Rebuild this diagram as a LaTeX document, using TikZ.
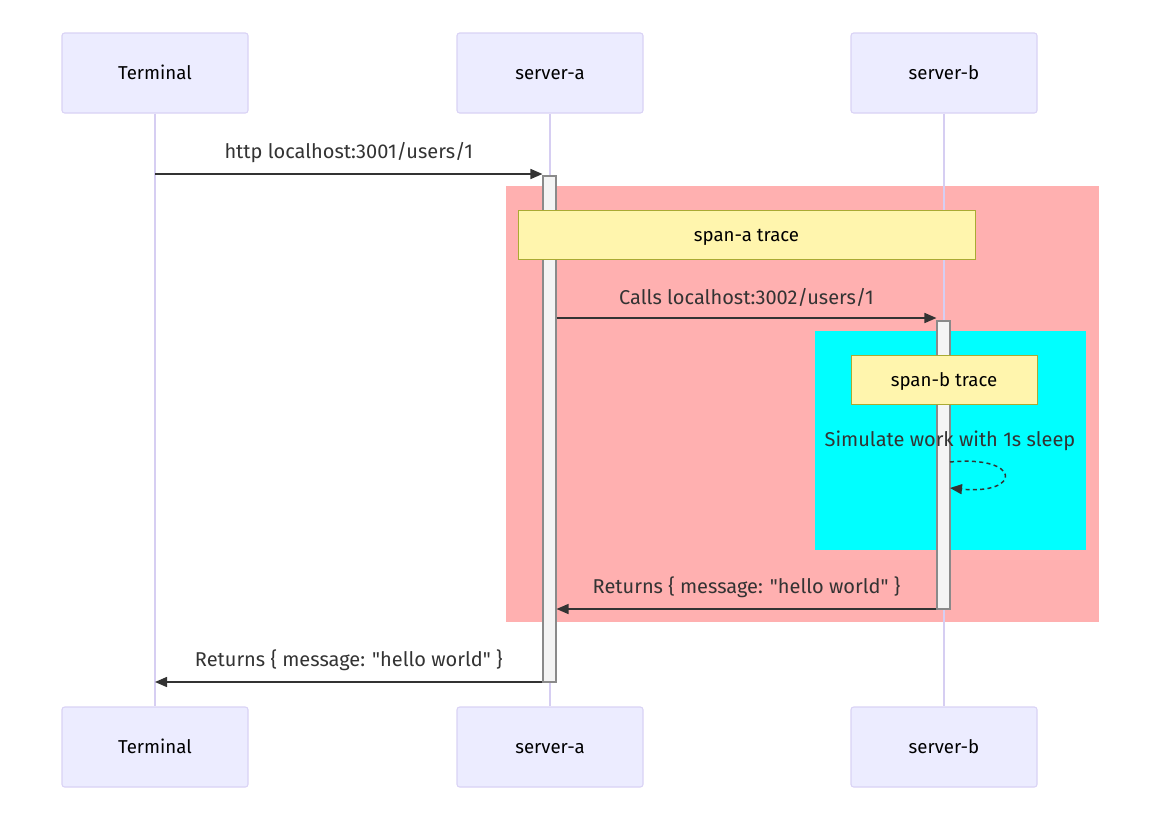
\documentclass[tikz,border=0pt]{standalone}
\usepackage{fontspec}
\setmainfont{Fira Sans}
\usetikzlibrary{arrows.meta}
\definecolor{actfill}{HTML}{ECECFF}
\definecolor{actline}{HTML}{D9D2F5}
\definecolor{lifeline}{HTML}{D6CEF2}
\definecolor{notefill}{HTML}{FFF5AD}
\definecolor{noteline}{HTML}{AAAA33}
\definecolor{actvfill}{HTML}{F4F4F4}
\definecolor{actvline}{HTML}{8A8A8A}
\definecolor{msgcol}{HTML}{333333}
\definecolor{spanapink}{HTML}{FFB0B0}
\definecolor{spanbcyan}{HTML}{00FFFF}
\begin{document}
\begin{tikzpicture}[x=0.75pt,y=-0.75pt,
    actor/.style = {rectangle,rounded corners=2pt,draw=actline,fill=actfill,line width=0.8pt,minimum width=139.5pt,minimum height=60pt,text height=11pt,text depth=2pt,font=\fontsize{14}{16}\selectfont},
    life/.style = {draw=lifeline,line width=1pt},
    actv/.style = {rectangle,draw=actvline,fill=actvfill,line width=0.8pt,minimum width=9.75pt,inner sep=0pt},
    note/.style = {rectangle,draw=noteline,fill=notefill,line width=0.7pt,minimum height=36.75pt,text height=13pt,text depth=3pt,font=\fontsize{14}{16}\selectfont},
    msg/.style = {draw=msgcol,line width=1.1pt,-{Triangle[length=9pt,width=7.5pt]}},
    msglabel/.style = {text=msgcol,font=\fontsize{15}{17}\selectfont,above=4.5pt}]
\useasboundingbox (0,0) rectangle (1161,822);
\fill[spanapink] (506,186) rectangle (1099,622);
\fill[spanbcyan] (815,331) rectangle (1086,550);
\foreach \n/\t/\x in {term/Terminal/155, srva/server-a/550, srvb/server-b/944}{
    \node[actor] (\n top) at (\x, 73) {\t};
    \node[actor] (\n bot) at (\x,747) {\t};
    \draw[life] (\n top) -- (\n bot);
}
\node[actv,minimum height=379.5pt] (actA) at (549.5,429) {};
\node[actv,minimum height=216pt] (actB) at (943.5,465) {};
\node[note,minimum width=342.75pt] (notea) at (746.5,234.5) {span-a trace};
\node[note,minimum width=139.5pt] (noteb) at (944,379.5) {span-b trace};
\node[text=msgcol,font=\fontsize{15}{17}\selectfont] (sim) at (950,441) {Simulate work with 1s sleep};
\coordinate (r1) at (0,174);
\coordinate (r2) at (0,318);
\coordinate (r3) at (0,609);
\coordinate (r4) at (0,682);
\coordinate (loopin) at (950,462);
\coordinate (loopout) at (950,488);
\draw[msg] (termtop |- r1) -- (actA.west |- r1) node[msglabel,midway] {http localhost:3001/users/1};
\draw[msg] (actA.east |- r2) -- (actB.west |- r2) node[msglabel,midway] {Calls localhost:3002/users/1};
\draw[msg,dashed,dash pattern=on 3pt off 2.5pt] (loopin) .. controls (1022,455) and (1022,495) .. (loopout);
\draw[msg] (actB.west |- r3) -- (actA.east |- r3) node[msglabel,midway] {Returns \{ message: \textquotedbl hello world\textquotedbl\ \}};
\draw[msg] (actA.west |- r4) -- (termtop |- r4) node[msglabel,midway] {Returns \{ message: \textquotedbl hello world\textquotedbl\ \}};
\end{tikzpicture}
\end{document}
